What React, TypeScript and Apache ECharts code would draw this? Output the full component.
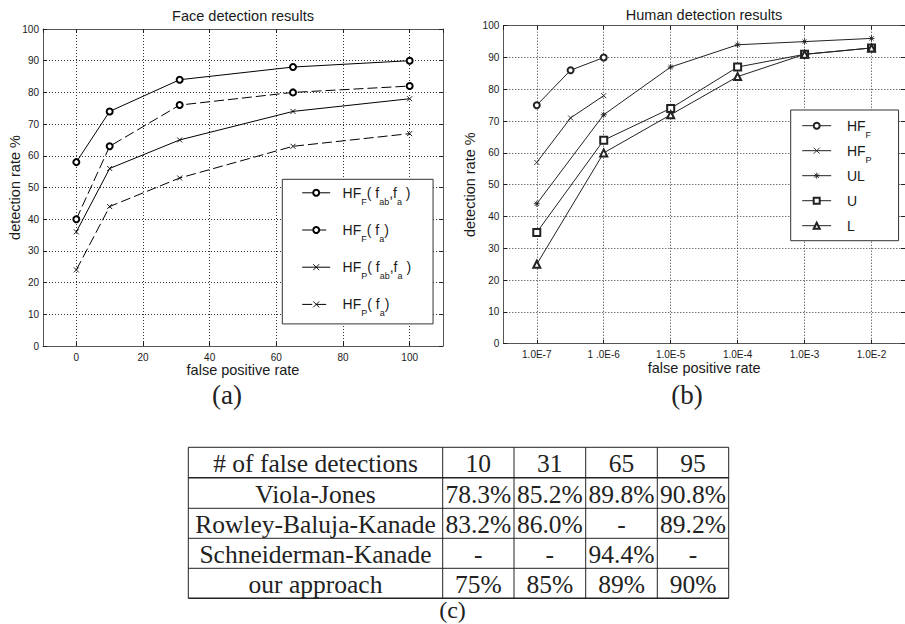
import React, { useEffect, useRef } from 'react';
import * as echarts from 'echarts';

// ---------- data ----------
const faceFalsePositives = [0, 10, 31, 65, 100];
const faceHFFfabfa = [58, 74, 84, 88, 90];
const faceHFFfa = [40, 63, 76, 80, 82];
const faceHFPfabfa = [36, 56, 65, 74, 78];
const faceHFPfa = [24, 44, 53, 63, 67];
const faceSeriesNames = ['HF_F(f_ab,f_a)', 'HF_F(f_a)', 'HF_P(f_ab,f_a)', 'HF_P(f_a)'];

const humanRatesShort = [1e-7, 3.2e-7, 1e-6];
const humanRatesLong = [1e-7, 1e-6, 1e-5, 1e-4, 1e-3, 1e-2];
const humanHFF = [75, 86, 90];
const humanHFP = [57, 71, 78];
const humanUL = [44, 72, 87, 94, 95, 96];
const humanU = [35, 64, 74, 87, 91, 93];
const humanL = [25, 60, 72, 84, 91, 93];
const humanSeriesNames = ['HF_F', 'HF_P', 'UL', 'U', 'L'];
const humanTickExponents = [-7, -6, -5, -4, -3, -2];
const humanTickLabels = ['1.0E-7', '1 .0E-6', '1.0E-5', '1.0E-4', '1.0E-3', '1.0E-2'];

const tableHeader = ['# of false detections', '10', '31', '65', '95'];
const tableMethods = ['Viola-Jones', 'Rowley-Baluja-Kanade', 'Schneiderman-Kanade', 'our approach'];
const tableViolaJones = ['78.3%', '85.2%', '89.8%', '90.8%'];
const tableRowley = ['83.2%', '86.0%', '-', '89.2%'];
const tableSchneiderman = ['-', '-', '94.4%', '-'];
const tableOurs = ['75%', '85%', '89%', '90%'];

// ---------- styles ----------
const SANS = '"Liberation Sans", Arial, sans-serif';
const SERIF = '"Liberation Serif", "Times New Roman", serif';
const AXIS_COLOR = '#555';
const TEXT_COLOR = '#1a1a1a';
const GRID_LINE = { color: '#333', width: 1, type: [1, 2] as any };

const legendRich: Record<string, string> = {
  'HF_F(f_ab,f_a)': '{h|HF}{s|F}{m|( f}{s|ab}{m|,f}{s|a}{m| )}',
  'HF_F(f_a)': '{h|HF}{s|F}{m|( f}{s|a}{m|)}',
  'HF_P(f_ab,f_a)': '{h|HF}{s|P}{m|( f}{s|ab}{m|,f}{s|a}{m| )}',
  'HF_P(f_a)': '{h|HF}{s|P}{m|( f}{s|a}{m|)}',
  HF_F: '{g|HF}{s|F}',
  HF_P: '{g|HF}{s|P}',
  UL: '{g|UL}{s| }',
  U: '{g|U}{s| }',
  L: '{g|L}{s| }',
};

const richStyles = {
  m: { fontSize: 14, lineHeight: 14, fontFamily: SANS, color: TEXT_COLOR },
  h: { fontSize: 14, lineHeight: 14, fontFamily: SANS, color: TEXT_COLOR, padding: [0, 0, 0, 7.4] },
  g: { fontSize: 14, lineHeight: 14, fontFamily: SANS, color: TEXT_COLOR, padding: [0, 0, 0, 10.7] },
  s: { fontSize: 9, lineHeight: 9, fontFamily: SANS, color: TEXT_COLOR, padding: [18, 0, 0, 0] },
};

const CROSS = 'path://M0,0L10,10M10,0L0,10';
const ASTERISK = 'path://M5,0L5,10M0,5L10,5M1.5,1.5L8.5,8.5M8.5,1.5L1.5,8.5';

function valueXAxis(gridIndex: number, bottom: boolean, extra: any) {
  return {
    gridIndex,
    position: bottom ? 'bottom' : 'top',
    axisLine: { show: true, onZero: false, lineStyle: { color: AXIS_COLOR, width: 1 } },
    axisTick: { show: true, inside: true, length: 4, lineStyle: { color: '#222', width: 1 } },
    axisLabel: bottom
      ? { show: true, showMinLabel: false, showMaxLabel: false, fontSize: 10, lineHeight: 10, margin: 6, color: TEXT_COLOR, fontFamily: SANS }
      : { show: false },
    splitLine: bottom ? { show: true, lineStyle: GRID_LINE } : { show: false },
    ...(bottom
      ? {
          name: 'false positive rate',
          nameLocation: 'middle',
          nameMoveOverlap: false,
          nameTextStyle: { fontSize: 14.5, lineHeight: 14, color: TEXT_COLOR, fontFamily: SANS },
        }
      : {}),
    ...extra,
  };
}

function yAxisFor(gridIndex: number, left: boolean, nameGap: number) {
  return {
    gridIndex,
    type: 'value',
    min: 0,
    max: 100,
    interval: 10,
    position: left ? 'left' : 'right',
    axisLine: { show: true, onZero: false, lineStyle: { color: AXIS_COLOR, width: 1 } },
    axisTick: { show: true, inside: true, length: 4, lineStyle: { color: '#222', width: 1 } },
    axisLabel: left ? { show: true, fontSize: 10, margin: 4, color: TEXT_COLOR, fontFamily: SANS } : { show: false },
    splitLine: left ? { show: true, lineStyle: GRID_LINE } : { show: false },
    ...(left
      ? {
          name: 'detection rate %',
          nameLocation: 'middle',
          nameGap,
          nameMoveOverlap: false,
          nameTextStyle: { fontSize: 14.5, lineHeight: 14, color: TEXT_COLOR, fontFamily: SANS },
        }
      : {}),
  };
}

function lineSeries(name: string, xIdx: number, yIdx: number, xs: number[], ys: number[], symbol: string, size: number, dashed: boolean, color: string) {
  return {
    name,
    type: 'line',
    xAxisIndex: xIdx,
    yAxisIndex: yIdx,
    data: xs.map((x, i) => [x, ys[i]]),
    symbol,
    symbolSize: size,
    showAllSymbol: true,
    silent: true,
    lineStyle: { color, width: 1, type: dashed ? [10, 4] : 'solid' },
    itemStyle: { color, borderColor: color, borderWidth: 0.9 },
    emphasis: { disabled: true },
    z: 3,
  };
}

function buildTable() {
  const colEdges = [188.3, 442.7, 514, 585.7, 657.3, 728.7];
  const rowEdges = [447.3, 477.7, 508.3, 538.3, 568.3, 598.3];
  const rows = [
    tableHeader,
    [tableMethods[0], ...tableViolaJones],
    [tableMethods[1], ...tableRowley],
    [tableMethods[2], ...tableSchneiderman],
    [tableMethods[3], ...tableOurs],
  ];
  const els: any[] = [];
  rowEdges.forEach((y, i) => {
    els.push({
      type: 'line',
      shape: { x1: colEdges[0], y1: y, x2: colEdges[colEdges.length - 1], y2: y },
      style: { stroke: '#222', lineWidth: i === 1 || i === rowEdges.length - 1 ? 1.5 : 1 },
    });
  });
  colEdges.forEach((x) => {
    els.push({
      type: 'line',
      shape: { x1: x, y1: rowEdges[0], x2: x, y2: rowEdges[rowEdges.length - 1] },
      style: { stroke: '#222', lineWidth: 1 },
    });
  });
  rows.forEach((row, r) => {
    row.forEach((cell, c) => {
      els.push({
        type: 'text',
        x: (colEdges[c] + colEdges[c + 1]) / 2,
        y: (rowEdges[r] + rowEdges[r + 1]) / 2 + 1,
        style: {
          text: cell,
          font: `25.5px ${SERIF}`,
          fill: '#222',
          align: 'center',
          verticalAlign: 'middle',
          textAlign: 'center',
          textVerticalAlign: 'middle',
        },
      });
    });
  });
  const caption = (t: string, x: number, y: number, size: number) => ({
    type: 'text',
    x,
    y,
    style: {
      text: t,
      font: `${size}px ${SERIF}`,
      fill: '#222',
      align: 'center',
      verticalAlign: 'middle',
      textAlign: 'center',
      textVerticalAlign: 'middle',
    },
  });
  els.push(caption('(a)', 227, 395, 27));
  els.push(caption('(b)', 687, 395, 27));
  els.push(caption('(c)', 452.5, 610, 24));
  return els;
}

export default function App() {
  const ref = useRef<HTMLDivElement>(null);
  useEffect(() => {
    if (!ref.current) return;
    const chart = echarts.init(ref.current, undefined, { renderer: 'svg' });
    const logFormatter = (v: number) => {
      const e = Math.round(Math.log10(v));
      const i = humanTickExponents.indexOf(e);
      return i >= 0 ? humanTickLabels[i] : '';
    };
    const legendCommon = {
      orient: 'vertical',
      backgroundColor: '#fff',
      borderColor: '#333',
      borderWidth: 1,
      borderRadius: 0,
      selectedMode: false,
      formatter: (n: string) => legendRich[n],
      lineStyle: { width: 1 },
      itemStyle: { borderWidth: 0.9 },
      textStyle: { fontFamily: SANS, color: TEXT_COLOR, rich: richStyles },
    };
    const option: any = {
      animation: false,
      backgroundColor: '#fff',
      title: [
        {
          text: 'Face detection results',
          left: 243,
          top: 8,
          textAlign: 'center',
          padding: 0,
          textStyle: { fontSize: 14.5, fontWeight: 'normal', color: TEXT_COLOR, fontFamily: SANS },
        },
        {
          text: 'Human detection results',
          left: 704,
          top: 7,
          textAlign: 'center',
          padding: 0,
          textStyle: { fontSize: 14.5, fontWeight: 'normal', color: TEXT_COLOR, fontFamily: SANS },
        },
      ],
      grid: [
        { left: 43, top: 29, width: 400, height: 317, containLabel: false },
        { left: 503.3, top: 25.7, width: 402, height: 318, containLabel: false },
      ],
      xAxis: [
        valueXAxis(0, true, { type: 'value', min: -10, max: 110, splitNumber: 6, nameGap: 16.5 }),
        valueXAxis(0, false, { type: 'value', min: -10, max: 110, splitNumber: 6 }),
        valueXAxis(1, true, {
          type: 'log',
          logBase: 10,
          min: Math.pow(10, -7.5),
          max: Math.pow(10, -1.5),
          splitNumber: 5,
          nameGap: 17.5,
          axisLabel: {
            show: true,
            showMinLabel: false,
            showMaxLabel: false,
            fontSize: 10,
            lineHeight: 10,
            margin: 6,
            color: TEXT_COLOR,
            fontFamily: SANS,
            formatter: logFormatter,
          },
        }),
        valueXAxis(1, false, {
          type: 'log',
          logBase: 10,
          min: Math.pow(10, -7.5),
          max: Math.pow(10, -1.5),
          splitNumber: 5,
        }),
      ],
      yAxis: [yAxisFor(0, true, 21), yAxisFor(0, false, 0), yAxisFor(1, true, 26.8), yAxisFor(1, false, 0)],
      legend: [
        {
          ...legendCommon,
          data: faceSeriesNames,
          left: 282.3,
          top: 179.3,
          padding: [0, 22, 6, 19.4],
          itemWidth: 28,
          itemHeight: 7.5,
          itemGap: 10.2,
        },
        {
          ...legendCommon,
          data: humanSeriesNames,
          left: 790.7,
          top: 110,
          padding: [2.2, 27, 1.5, 11],
          itemWidth: 29,
          itemHeight: 7.5,
          itemGap: -2,
        },
      ],
      series: [
        lineSeries(faceSeriesNames[0], 0, 0, faceFalsePositives, faceHFFfabfa, 'emptyCircle', 6, false, '#000'),
        lineSeries(faceSeriesNames[1], 0, 0, faceFalsePositives, faceHFFfa, 'emptyCircle', 6, true, '#000'),
        lineSeries(faceSeriesNames[2], 0, 0, faceFalsePositives, faceHFPfabfa, CROSS, 5, false, '#000'),
        lineSeries(faceSeriesNames[3], 0, 0, faceFalsePositives, faceHFPfa, CROSS, 5, true, '#000'),
        lineSeries(humanSeriesNames[0], 2, 2, humanRatesShort, humanHFF, 'emptyCircle', 6, false, '#222'),
        lineSeries(humanSeriesNames[1], 2, 2, humanRatesShort, humanHFP, CROSS, 5, false, '#222'),
        lineSeries(humanSeriesNames[2], 2, 2, humanRatesLong, humanUL, ASTERISK, 6, false, '#222'),
        lineSeries(humanSeriesNames[3], 2, 2, humanRatesLong, humanU, 'emptyRect', 7, false, '#222'),
        lineSeries(humanSeriesNames[4], 2, 2, humanRatesLong, humanL, 'emptyTriangle', 7, false, '#222'),
      ],
      graphic: buildTable(),
    };
    chart.setOption(option);
    return () => chart.dispose();
  }, []);
  return (
    <div
      ref={ref}
      style={{ position: 'fixed', left: 0, top: 0, width: 905, height: 624, background: '#fff' }}
    />
  );
}
